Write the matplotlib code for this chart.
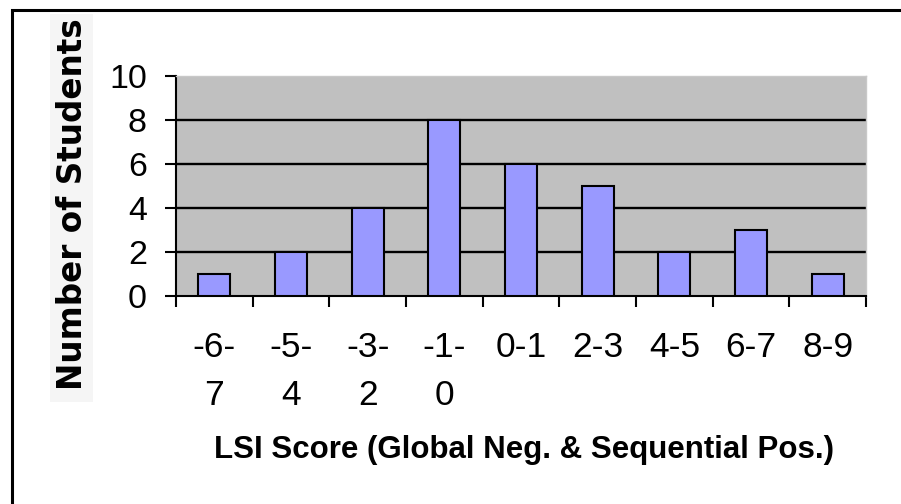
import numpy as np
import matplotlib
matplotlib.use("Agg")
import matplotlib.pyplot as plt
from matplotlib.patches import Rectangle

plt.rcParams['font.family'] = ['Liberation Sans', 'DejaVu Sans']

# LSI score bins and student counts
score_bins = ["-6-\n7", "-5-\n4", "-3-\n2", "-1-\n0", "0-1", "2-3", "4-5", "6-7", "8-9"]
num_students = [1, 2, 4, 8, 6, 5, 2, 3, 1]
y_ticks = [0, 2, 4, 6, 8, 10]

W, H = 901, 504
fig = plt.figure(figsize=(W / 100, H / 100), dpi=100)
ax = fig.add_axes([176 / W, 1 - 296 / H, 690 / W, 220 / H])

x = np.arange(len(score_bins))
ax.set_facecolor('#c0c0c0')
ax.bar(x, num_students, width=0.42, color='#9999ff', edgecolor='black',
       linewidth=1.5, zorder=3)

ax.set_xlim(-0.5, len(score_bins) - 0.5)
ax.set_ylim(0, 10)
ax.set_yticks(y_ticks)
ax.set_yticklabels([str(t) for t in y_ticks], fontsize=24.5)

# labels at the bin centres, tick marks on the bin boundaries
ax.set_xticks(x)
ax.set_xticklabels(score_bins, fontsize=25.5, linespacing=1.6)
ax.set_xticks(np.arange(-0.5, len(score_bins)), minor=True)
ax.tick_params(axis='x', which='major', length=0, pad=25)
ax.tick_params(axis='x', which='minor', length=8, width=1.5, direction='out')
ax.tick_params(axis='y', length=8, width=1.5, direction='out', pad=13)

for yv in y_ticks[1:-1]:
    ax.axhline(yv, color='black', linewidth=1.7, zorder=2)

ax.spines['left'].set_linewidth(1.5)
ax.spines['bottom'].set_linewidth(1.5)
for side in ['top', 'right']:
    ax.spines[side].set_color('#c8c8c8')
    ax.spines[side].set_linewidth(1.0)

# y title on a pale panel
fig.add_artist(Rectangle((50 / W, 1 - 402 / H), 43 / W, 388 / H,
                         transform=fig.transFigure, facecolor='#f5f5f5',
                         edgecolor='none', zorder=0))
fig.text(82 / W, 1 - 204 / H, "Number of Students", rotation=90,
         rotation_mode='anchor', ha='center', va='baseline',
         family='DejaVu Sans', fontsize=23.5, fontweight='bold')

fig.text(524 / W, 1 - 458 / H, "LSI Score (Global Neg. & Sequential Pos.)",
         ha='center', va='baseline', fontsize=22.5, fontweight='bold')

# chart frame
fig.add_artist(Rectangle((12 / W, -0.1), 1.1, 1.1 - 10 / H,
                         transform=fig.transFigure, facecolor='none',
                         edgecolor='black', linewidth=2.2))

fig.savefig('out.png', dpi=100)
